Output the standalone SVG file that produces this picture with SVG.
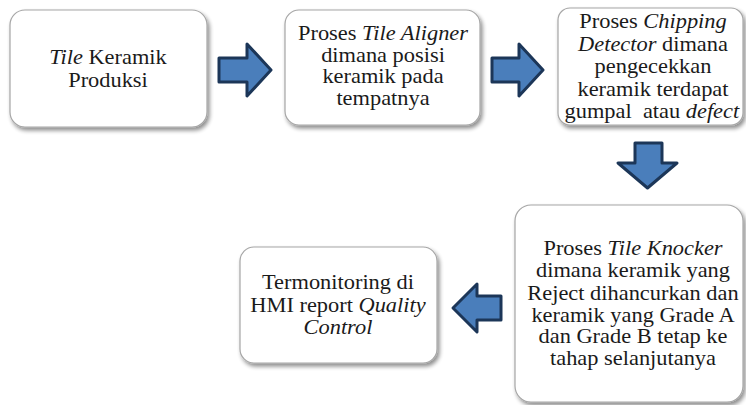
<svg xmlns="http://www.w3.org/2000/svg" width="746" height="405" viewBox="0 0 746 405">
<defs>
<filter id="sh" x="-10%" y="-10%" width="125%" height="130%">
<feGaussianBlur in="SourceAlpha" stdDeviation="2"/>
<feOffset dx="2" dy="3" result="b"/>
<feComponentTransfer><feFuncA type="linear" slope="0.45"/></feComponentTransfer>
<feMerge><feMergeNode/><feMergeNode in="SourceGraphic"/></feMerge>
</filter>
</defs>
<style>
.box{fill:#fff;stroke:#a6a6a6;stroke-width:1.2;filter:url(#sh)}
.t{font-family:'Liberation Serif','Times New Roman',serif;font-size:20px;fill:#1a1a1a;text-anchor:middle}
.i{font-style:italic}
.ar{fill:#4a7ebb;stroke:#1c3658;stroke-width:3;stroke-linejoin:round}
</style>
<rect width="746" height="405" fill="#fff"/>
<g id="n1">
<rect class="box" x="10" y="10" width="197" height="117" rx="15"/>
<g transform="translate(108 0) scale(1.12 1)">
<text class="t" x="0" y="64"><tspan class="i">Tile</tspan> Keramik</text>
<text class="t" x="0" y="87">Produksi</text>
</g>
</g>
<g id="n2">
<rect class="box" x="285" y="10" width="195" height="115" rx="14"/>
<g transform="translate(383 0) scale(1.12 1)">
<text class="t" x="0" y="40">Proses <tspan class="i">Tile Aligner</tspan></text>
<text class="t" x="0" y="62">dimana posisi</text>
<text class="t" x="0" y="83">keramik pada</text>
<text class="t" x="0" y="105">tempatnya</text>
</g>
</g>
<g id="n3">
<rect class="box" x="558" y="8" width="185" height="117" rx="12"/>
<g transform="translate(653 0) scale(1.12 1)">
<text class="t" x="0" y="28">Proses <tspan class="i">Chipping</tspan></text>
<text class="t" x="0" y="51"><tspan class="i">Detector</tspan> dimana</text>
<text class="t" x="0" y="73">pengecekkan</text>
<text class="t" x="0" y="96">keramik terdapat</text>
<text class="t" x="-1" y="118" xml:space="preserve">gumpal  atau <tspan class="i">defect</tspan></text>
</g>
</g>
<g id="n4">
<rect class="box" x="515" y="205" width="228" height="197" rx="16"/>
<g transform="translate(633 0) scale(1.12 1)">
<text class="t" x="0" y="255">Proses <tspan class="i">Tile Knocker</tspan></text>
<text class="t" x="0" y="277">dimana keramik yang</text>
<text class="t" x="0" y="300">Reject dihancurkan dan</text>
<text class="t" x="0" y="322">keramik yang Grade A</text>
<text class="t" x="0" y="343">dan Grade B tetap ke</text>
<text class="t" x="0" y="365">tahap selanjutanya</text>
</g>
</g>
<g id="n5">
<rect class="box" x="240" y="247" width="197" height="116" rx="14"/>
<g transform="translate(338 0) scale(1.12 1)">
<text class="t" x="0" y="289">Termonitoring di</text>
<text class="t" x="0" y="312">HMI report <tspan class="i">Quality</tspan></text>
<text class="t" x="0" y="334"><tspan class="i">Control</tspan></text>
</g>
</g>
<g id="connectors">
<polygon class="ar" points="219,58 247,58 247,44 271,70 247,96 247,82 219,82"/>
<polygon class="ar" points="492,58 519,58 519,44 543,70 519,96 519,82 492,82"/>
<polygon class="ar" points="635,143 662,143 662,163 677,163 647.5,188 618,163 635,163"/>
<polygon class="ar" points="501,296 477,296 477,284 453,308 477,332 477,320 501,320"/>
</g>
</svg>
